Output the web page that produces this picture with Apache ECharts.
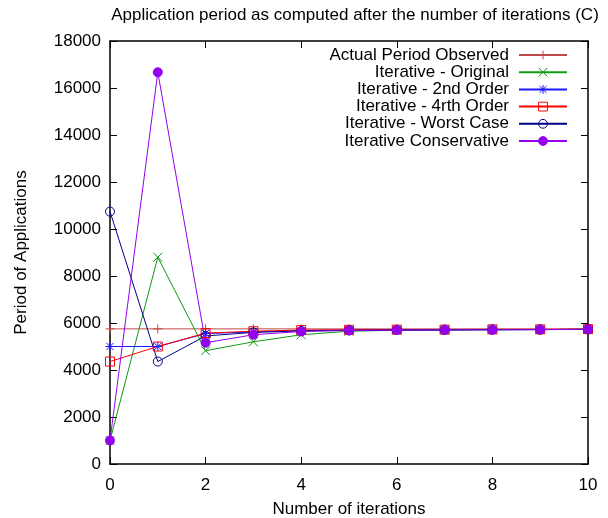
<!DOCTYPE html>
<html>
<head>
<meta charset="utf-8">
<script src="https://cdn.jsdelivr.net/npm/echarts@6/dist/echarts.min.js"></script>
<style>
html,body{margin:0;padding:0;background:#fff;}
#chart{width:608px;height:518px;}
</style>
</head>
<body>
<div id="chart"></div>
<script>
// data
var iterations = [0, 1, 2, 3, 4, 5, 6, 7, 8, 9, 10];
var actualObserved = [5750, 5750, 5750, 5750, 5750, 5750, 5750, 5750, 5750, 5750, 5750];
var iterOriginal = [1000, 8800, 4820, 5200, 5500, 5650, 5690, 5700, 5710, 5720, 5730];
var iter2ndOrder = [5000, 5000, 5550, 5620, 5680, 5700, 5700, 5710, 5720, 5720, 5730];
var iter4thOrder = [4360, 5000, 5570, 5650, 5700, 5710, 5720, 5720, 5730, 5730, 5740];
var iterWorstCase = [10740, 4360, 5450, 5600, 5660, 5690, 5700, 5710, 5720, 5720, 5730];
var iterConservative = [1000, 16670, 5160, 5500, 5640, 5680, 5700, 5710, 5710, 5720, 5730];

var seriesNames = ['Actual Period Observed', 'Iterative - Original', 'Iterative - 2nd Order',
	'Iterative - 4rth Order', 'Iterative - Worst Case', 'Iterative Conservative'];
var seriesValues = [actualObserved, iterOriginal, iter2ndOrder, iter4thOrder, iterWorstCase, iterConservative];
var colors = ['#c04848', '#109a10', '#1a1aff', '#ff0000', '#00008b', '#9400f0'];

var plusPath = 'path://M5,0L5,10M0,5L10,5';
var crossPath = 'path://M0,0L10,10M0,10L10,0';
var starPath = 'path://M5,0L5,10M0,5L10,5M1,1L9,9M1,9L9,1';
var symbols = [plusPath, crossPath, starPath, 'rect', 'circle', 'circle'];
var symbolSizes = [9, 9, 9, 9, 9, 9];
var fills = ['transparent', 'transparent', 'transparent', 'transparent', 'transparent', colors[5]];

var font = 'Liberation Sans';
var fs = 17;

var series = [];
var legends = [];
for (var i = 0; i < seriesNames.length; i++) {
	var pts = [];
	for (var j = 0; j < iterations.length; j++) {
		pts.push([iterations[j], seriesValues[i][j]]);
	}
	series.push({
		name: seriesNames[i],
		type: 'line',
		data: pts,
		symbol: symbols[i],
		symbolSize: symbolSizes[i],
		showAllSymbol: true,
		lineStyle: { color: colors[i], width: 1 },
		itemStyle: { color: fills[i], borderColor: colors[i], borderWidth: 1 },
		emphasis: { disabled: true },
		animation: false
	});
	legends.push({
		data: [seriesNames[i]],
		right: 40,
		top: 46.5 + i * 17.2,
		padding: 0,
		itemWidth: 48,
		itemHeight: 11,
		align: 'right',
		selectedMode: false,
		itemStyle: { borderWidth: 1, borderColor: colors[i] },
		textStyle: { fontFamily: font, fontSize: fs, color: '#000', padding: [0, 5, 0, 0] }
	});
}

function plainNum(v) { return String(v); }

var chart = echarts.init(document.getElementById('chart'));
chart.setOption({
	animation: false,
	backgroundColor: '#fff',
	title: {
		text: 'Application period as computed after the number of iterations (C)',
		left: 350,
		textAlign: 'center',
		top: 2,
		textStyle: { fontFamily: font, fontSize: fs, fontWeight: 'normal', color: '#000' }
	},
	legend: legends,
	grid: { left: 110, right: 20, top: 41, bottom: 54, outerBoundsMode: 'none', containLabel: false },
	xAxis: [{
		type: 'value', min: 0, max: 10, interval: 2,
		name: 'Number of iterations', nameLocation: 'middle', nameGap: 37,
		nameTextStyle: { fontFamily: font, fontSize: fs, color: '#000' },
		axisLine: { onZero: false, lineStyle: { color: '#000', width: 1.5 } },
		axisTick: { inside: true, length: 7, lineStyle: { color: '#000' } },
		axisLabel: { fontFamily: font, fontSize: fs, color: '#000', margin: 13, formatter: plainNum },
		splitLine: { show: false }
	}, {
		type: 'value', min: 0, max: 10, interval: 2, position: 'top',
		axisLine: { show: true, onZero: false, lineStyle: { color: '#000', width: 1.5 } },
		axisTick: { show: true, inside: true, length: 7, lineStyle: { color: '#000' } },
		axisLabel: { show: false },
		splitLine: { show: false }
	}],
	yAxis: [{
		type: 'value', min: 0, max: 18000, interval: 2000,
		name: 'Period of Applications', nameLocation: 'middle', nameGap: 80,
		nameTextStyle: { fontFamily: font, fontSize: fs, color: '#000' },
		axisLine: { show: true, onZero: false, lineStyle: { color: '#000', width: 1.5 } },
		axisTick: { show: true, inside: true, length: 7, lineStyle: { color: '#000' } },
		axisLabel: { fontFamily: font, fontSize: fs, color: '#000', margin: 9, formatter: plainNum },
		splitLine: { show: false }
	}, {
		type: 'value', min: 0, max: 18000, interval: 2000, position: 'right',
		axisLine: { show: true, onZero: false, lineStyle: { color: '#000', width: 1.5 } },
		axisTick: { show: true, inside: true, length: 7, lineStyle: { color: '#000' } },
		axisLabel: { show: false },
		splitLine: { show: false }
	}],
	series: series
});
</script>
</body>
</html>
